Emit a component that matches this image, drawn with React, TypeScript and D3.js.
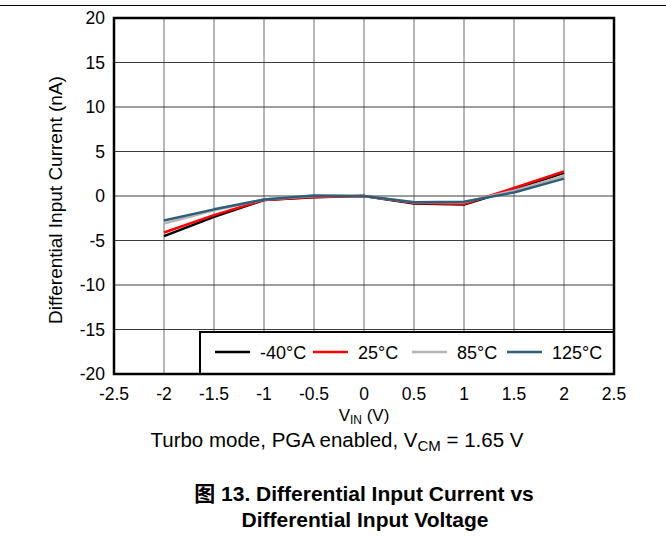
import React from "react";
import * as d3 from "d3";

const vin = [-2, -1.5, -1, -0.5, 0, 0.5, 1, 1.5, 2];
const seriesNames = ["-40°C", "25°C", "85°C", "125°C"];
const seriesColors = ["#000000", "#ff0000", "#b4b4b4", "#2e5e7a"];
const m40 = [-4.5, -2.35, -0.45, -0.15, 0, -0.85, -0.95, 0.75, 2.6];
const p25 = [-4.1, -2.15, -0.45, -0.1, 0, -0.8, -0.9, 0.9, 2.75];
const p85 = [-3.1, -1.6, -0.4, 0, 0, -0.7, -0.7, 0.6, 2.25];
const p125 = [-2.75, -1.5, -0.4, 0.05, 0, -0.7, -0.65, 0.4, 1.95];
const seriesValues = [m40, p25, p85, p125];
const xTicks = [-2.5, -2, -1.5, -1, -0.5, 0, 0.5, 1, 1.5, 2, 2.5];
const yTicks = [-20, -15, -10, -5, 0, 5, 10, 15, 20];

export default function App() {
  const left = 114, right = 614, top = 18, bottom = 374;
  const x = d3.scaleLinear().domain([-2.5, 2.5]).range([left, right]);
  const y = d3.scaleLinear().domain([-20, 20]).range([bottom, top]);
  const line = d3
    .line<number>()
    .x((_, i) => x(vin[i]))
    .y((d) => y(d));
  const font = "'Liberation Sans', Arial, sans-serif";
  const legX = [215, 313, 412, 507];
  const legY = 352;
  return (
    <svg
      width={666}
      height={537}
      style={{ position: "absolute", left: 0, top: 0, background: "#fff" }}
      fontFamily={font}
    >
      <rect x={0} y={0} width={666} height={537} fill="#fff" />
      <line x1={0} x2={666} y1={5.5} y2={5.5} stroke="#000" strokeWidth={1} />
      {xTicks.slice(1, -1).map((t) => (
        <line key={"gx" + t} x1={x(t)} x2={x(t)} y1={top} y2={bottom} stroke="#6e6e6e" strokeWidth={1} />
      ))}
      {yTicks.slice(1, -1).map((t) => (
        <line key={"gy" + t} x1={left} x2={right} y1={y(t)} y2={y(t)} stroke="#3c3c3c" strokeWidth={1} />
      ))}
      {seriesValues.map((vals, i) => (
        <path
          key={"s" + i}
          d={line(vals) || ""}
          fill="none"
          stroke={seriesColors[i]}
          strokeWidth={2.5}
          strokeLinejoin="round"
        />
      ))}
      <rect x={200} y={332} width={right - 200} height={bottom - 332} fill="#fff" stroke="#000" strokeWidth={2} />
      {seriesNames.map((n, i) => (
        <g key={"l" + i}>
          <line x1={legX[i]} x2={legX[i] + 35} y1={legY} y2={legY} stroke={seriesColors[i]} strokeWidth={2.5} />
          <text x={legX[i] + 45} y={legY + 6.5} fontSize={18} fill="#000">
            {n}
          </text>
        </g>
      ))}
      <rect x={left} y={top} width={right - left} height={bottom - top} fill="none" stroke="#000" strokeWidth={2.5} />
      {yTicks.map((t) => (
        <text key={"ty" + t} x={left - 9} y={y(t) + 6.3} textAnchor="end" fontSize={17.5} fill="#000">
          {t}
        </text>
      ))}
      {xTicks.map((t) => (
        <text key={"tx" + t} x={x(t)} y={400} textAnchor="middle" fontSize={17.5} fill="#000">
          {t}
        </text>
      ))}
      <text
        transform={`translate(${62},${200}) rotate(-90)`}
        textAnchor="middle"
        fontSize={19}
        fill="#000"
      >
        Differential Input Current (nA)
      </text>
      <text x={364} y={421} textAnchor="middle" fontSize={17} fill="#000">
        V<tspan fontSize={12} dy={3}>IN</tspan>
        <tspan dy={-3}> (V)</tspan>
      </text>
      <text x={337} y={447} textAnchor="middle" fontSize={20.5} fill="#000">
        Turbo mode, PGA enabled, V<tspan fontSize={15} dy={4}>CM</tspan>
        <tspan dy={-4}> = 1.65 V</tspan>
      </text>
      <text x={364} y={501} textAnchor="middle" fontSize={21} fontWeight="bold" fill="#000">
        <tspan fontFamily="'Noto Sans CJK SC', sans-serif">图</tspan> 13. Differential Input Current vs
      </text>
      <text x={365} y={527} textAnchor="middle" fontSize={21} fontWeight="bold" fill="#000">
        Differential Input Voltage
      </text>
    </svg>
  );
}
